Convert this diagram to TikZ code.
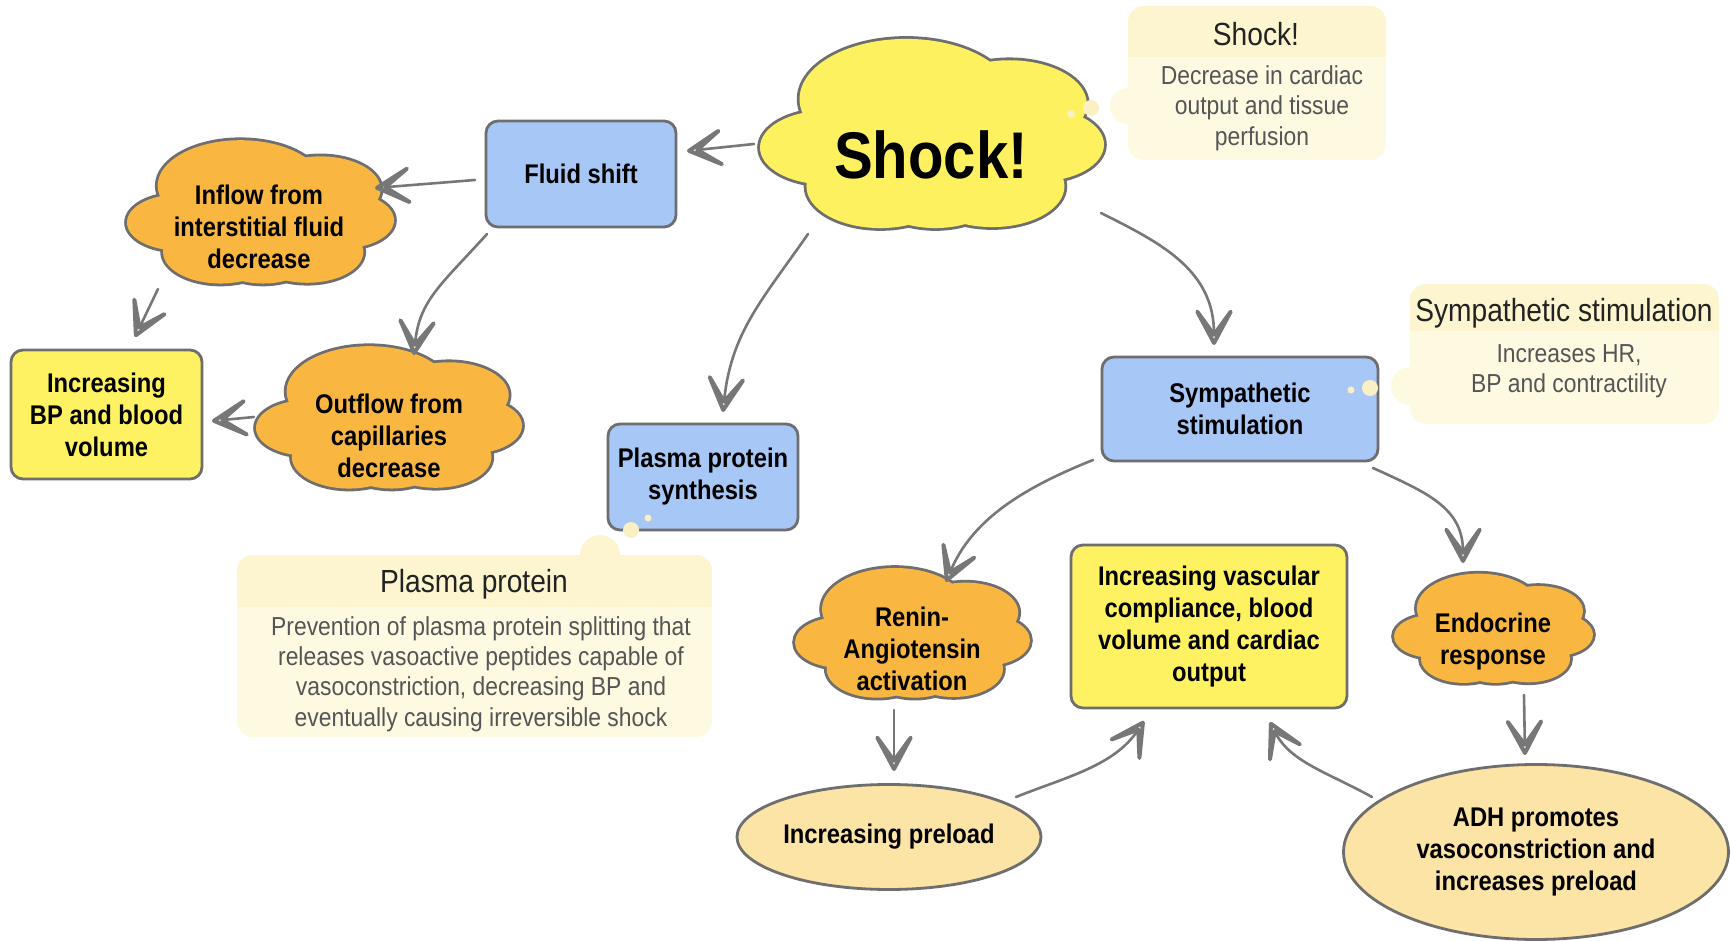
\documentclass[tikz,border=0pt]{standalone}
\usepackage{fontspec}
\setmainfont{Liberation Sans}[FakeStretch=0.88]
\usetikzlibrary{arrows.meta,shapes.geometric,calc}

\definecolor{lineg}{HTML}{6E6E6E}
\definecolor{arrg}{HTML}{777777}
\definecolor{shockY}{HTML}{FEF15F}
\definecolor{orangeC}{HTML}{F9B742}
\definecolor{blueB}{HTML}{A7C7F7}
\definecolor{yellowB}{HTML}{FEF263}
\definecolor{ellF}{HTML}{FCE3A6}
\definecolor{callF}{HTML}{FEFAE2}
\definecolor{callT}{HTML}{FDF5D0}
\definecolor{callDot}{HTML}{FBF0C4}
\definecolor{bodyG}{HTML}{555555}
\definecolor{titleG}{HTML}{222222}

\newcommand\cloudpuffs{-0.15/-0.35/0.62, 0.45/-0.3/0.45, 0.62/0.12/0.38, 0.35/0.55/0.42, -0.3/0.55/0.43, -0.62/0.15/0.38, 0/0/0.6, 0.02/0.6/0.38}
\newcommand\cloudbg[5]{%
  \begin{scope}[shift={(#1,#2)},xscale=#3/2,yscale=#4/2]
    \foreach \pa/\pb/\pr in \cloudpuffs
      \draw[draw=lineg,line width=2.8pt] (\pa,\pb) circle[radius=\pr];
    \foreach \pa/\pb/\pr in \cloudpuffs
      \fill[#5] (\pa,\pb) circle[radius=\pr];
  \end{scope}}

\tikzset{
  lbl/.style={align=center, font=\bfseries\fontsize{13.5}{16}\selectfont, text=black, inner sep=0pt},
  boxnode/.style={lbl, draw=lineg, line width=1.4pt, rounded corners=6pt},
  bluebox/.style={boxnode, fill=blueB},
  yelbox/.style={boxnode, fill=yellowB},
  ellnode/.style={lbl, ellipse, draw=lineg, line width=1.4pt, fill=ellF},
  conn/.style={draw=arrg, line width=1.3pt, line cap=round, -{Stealth[open,round,length=30pt,width=32pt,inset=22pt,line width=2pt]}},
  ctitle/.style={font=\fontsize{16}{19}\selectfont, text=titleG, align=center, inner sep=0pt},
  cbody/.style={font=\fontsize{13}{15.2}\selectfont, text=bodyG, align=center, inner sep=0pt},
}

\begin{document}
\begin{tikzpicture}[x=0.5pt,y=-0.5pt]
\useasboundingbox (0,0) rectangle (1731,941);
\fill[white] (0,0) rectangle (1731,941);

% cloud backgrounds
\cloudbg{932}{133}{344}{194}{shockY}
\cloudbg{260.5}{211.5}{267}{147}{orangeC}
\cloudbg{389}{417}{266}{146}{orangeC}
\cloudbg{912.5}{632.5}{235}{133}{orangeC}
\cloudbg{1493.5}{628}{199}{112}{orangeC}

% nodes
\node[lbl, font=\bfseries\fontsize{33}{36}\selectfont] (shock) at (931,155) {Shock!};
\node[bluebox, minimum width=95pt, minimum height=53pt] (fluid) at (581,174) {Fluid shift};
\node[lbl] (inflow) at (259,227) {Inflow from\\interstitial fluid\\decrease};
\node[yelbox, minimum width=95.5pt, minimum height=64.5pt] (incbp) at (106.5,414.5) {Increasing\\BP and blood\\volume};
\node[lbl] (outflow) at (389,436) {Outflow from\\capillaries\\decrease};
\node[bluebox, minimum width=95pt, minimum height=53pt] (pps) at (703,477) {Plasma protein\\synthesis};
\node[bluebox, minimum width=138pt, minimum height=52pt] (symp) at (1240,409) {Sympathetic\\stimulation};
\node[lbl] (renin) at (912,649) {Renin-\\Angiotensin\\activation};
\node[yelbox, minimum width=138pt, minimum height=81.5pt] (vasc) at (1209,626.5) {Increasing vascular\\compliance, blood\\volume and cardiac\\output};
\node[lbl] (endo) at (1493,642) {Endocrine\\response};
\node[ellnode, minimum width=152pt, minimum height=52.5pt] (preload) at (889,837) {Increasing preload};
\node[ellnode, minimum width=192.5pt, minimum height=87.5pt] (adh) at (1536,852) {ADH promotes\\vasoconstriction and\\increases preload};

% connectors
\draw[conn] ([shift={(-177,-11)}]shock.center) -- ([shift={(106,-23)}]fluid.center);
\draw[conn] ([shift={(-106,6)}]fluid.center) -- ([shift={(116,-39)}]inflow.center);
\draw[conn] ([shift={(-94,60)}]fluid.center) .. controls +(-45,50) and +(5,-55) .. ([shift={(25,-81)}]outflow.center);
\draw[conn] ([shift={(-101,62)}]inflow.center) -- ([shift={(28.5,-77.5)}]incbp.center);
\draw[conn] ([shift={(-135,-19)}]outflow.center) -- ([shift={(105.5,6.5)}]incbp.center);
\draw[conn] ([shift={(-123,79)}]shock.center) .. controls +(-45,65) and +(8,-80) .. ([shift={(20,-65)}]pps.center);
\draw[conn] ([shift={(170,58)}]shock.center) .. controls +(60,30) and +(0,-75) .. ([shift={(-26,-64)}]symp.center);
\draw[conn] ([shift={(-147,51)}]symp.center) .. controls +(-75,30) and +(25,-60) .. ([shift={(34,-67)}]renin.center);
\draw[conn] ([shift={(133,59)}]symp.center) .. controls +(55,25) and +(0,-55) .. ([shift={(-30,-79)}]endo.center);
\draw[conn] ([shift={(-18,61)}]renin.center) -- ([shift={(5,-66)}]preload.center);
\draw[conn] ([shift={(31,53)}]endo.center) -- ([shift={(-11,-97)}]adh.center);
\draw[conn] ([shift={(127,-40)}]preload.center) .. controls +(50,-20) and +(-30,45) .. ([shift={(-65,94.5)}]vasc.center);
\draw[conn] ([shift={(-164,-55)}]adh.center) .. controls +(-45,-25) and +(20,40) .. ([shift={(61,95.5)}]vasc.center);

% callout: Shock!
\fill[callF] (1128,106) circle[radius=18];
\fill[callDot] (1091,108) circle[radius=8];
\fill[callDot] (1071,114) circle[radius=4];
\begin{scope}
  \clip[rounded corners=8pt] (1128,6) rectangle (1386,160);
  \fill[callF] (1128,6) rectangle (1386,160);
  \fill[callT] (1128,6) rectangle (1386,57);
\end{scope}
\node[ctitle] (shockct) at (1256,34) {Shock!};
\node[cbody] (shockcb) at (1262,108) {Decrease in cardiac\\output and tissue\\perfusion};

% callout: Sympathetic stimulation
\fill[callF] (1410,386) circle[radius=19];
\fill[callDot] (1370,388) circle[radius=8];
\fill[callDot] (1351,390) circle[radius=3.5];
\begin{scope}
  \clip[rounded corners=8pt] (1410,284) rectangle (1719,424);
  \fill[callF] (1410,284) rectangle (1719,424);
  \fill[callT] (1410,284) rectangle (1719,331);
\end{scope}
\node[ctitle] (sympct) at (1564,313) {Sympathetic stimulation};
\node[cbody] (sympcb) at (1569,371.5) {Increases HR,\\BP and contractility};

% callout: Plasma protein
\fill[callT] (600,555) circle[radius=20];
\fill[callDot] (631,530) circle[radius=8];
\fill[callDot] (648,518) circle[radius=3.5];
\begin{scope}
  \clip[rounded corners=8pt] (237,555) rectangle (712,737);
  \fill[callF] (237,555) rectangle (712,737);
  \fill[callT] (237,555) rectangle (712,607);
\end{scope}
\node[ctitle] (ppct) at (474,584) {Plasma protein};
\node[cbody] (ppcb) at (481,674) {Prevention of plasma protein splitting that\\releases vasoactive peptides capable of\\vasoconstriction, decreasing BP and\\eventually causing irreversible shock};
\end{tikzpicture}
\end{document}
